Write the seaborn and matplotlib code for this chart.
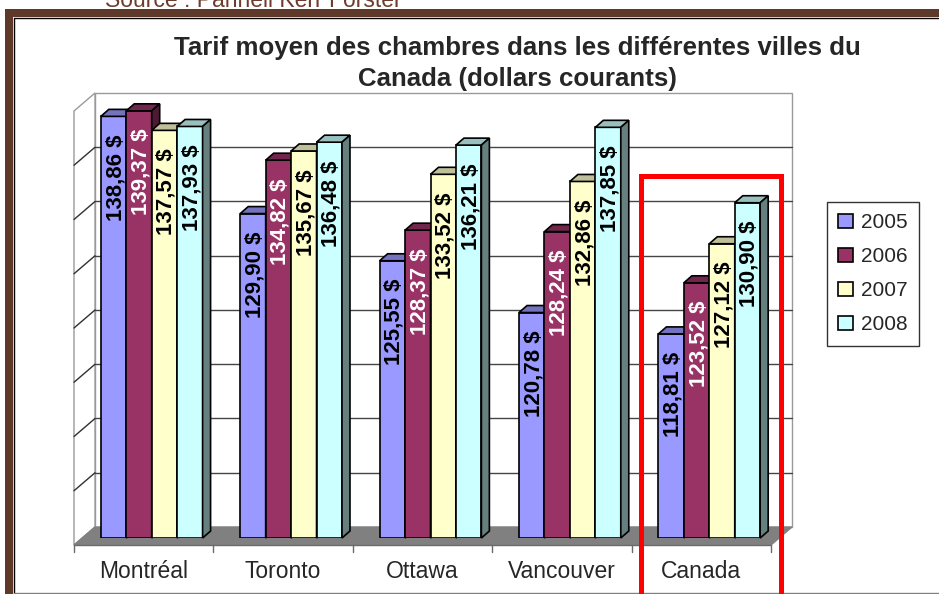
import numpy as np
import pandas as pd
import seaborn as sns
import matplotlib.pyplot as plt
from matplotlib import transforms
from matplotlib.patches import Polygon, Rectangle
from matplotlib.lines import Line2D

# data
cities = ["Montréal", "Toronto", "Ottawa", "Vancouver", "Canada"]
years = ["2005", "2006", "2007", "2008"]
tarif_2005 = [138.86, 129.90, 125.55, 120.78, 118.81]
tarif_2006 = [139.37, 134.82, 128.37, 128.24, 123.52]
tarif_2007 = [137.57, 135.67, 133.52, 132.86, 127.12]
tarif_2008 = [137.93, 136.48, 136.21, 137.85, 130.90]
y_min, y_max, y_step = 100, 140, 5

title_1 = "Tarif moyen des chambres dans les différentes villes du"
title_2 = "Canada (dollars courants)"
source = "Source : Pannell Kerr Forster"

front_colors = ["#9999FF", "#993366", "#FFFFCC", "#CCFFFF"]
label_colors = ["black", "white", "black", "black"]

df = pd.DataFrame({
    "ville": cities * len(years),
    "annee": np.repeat(years, len(cities)),
    "tarif": tarif_2005 + tarif_2006 + tarif_2007 + tarif_2008,
})

sns.set_style("white")
plt.rcParams["font.family"] = ["Liberation Sans", "DejaVu Sans"]

W, H = 939, 594
fig = plt.figure(figsize=(W / 100, H / 100), dpi=100)
ax = fig.add_axes([82 / W, 1 - 538 / H, 697 / W, 434 / H])

sns.barplot(data=df, x="ville", y="tarif", hue="annee", palette=front_colors,
            saturation=1, width=0.73, edgecolor="black", linewidth=1.2,
            legend=False, ax=ax)
ax.set_xlim(-0.5, len(cities) - 0.5)
ax.set_ylim(y_min, y_max)
ax.axis("off")

# pixel depth of the pseudo 3d view
BACK = np.array([13, 11])
FRONT = np.array([-8, -7])
BAR_D = np.array([8, 7])
ident = transforms.IdentityTransform()


def disp(x, y, off=(0, 0)):
    return ax.transData.transform((x, y)) + np.asarray(off)


def poly(pts, fc, ec, lw=1.0, z=1):
    ax.add_patch(Polygon(pts, closed=True, facecolor=fc, edgecolor=ec, lw=lw,
                         transform=ident, clip_on=False, zorder=z))


def line(p, q, color, lw=1.0, z=1):
    ax.add_line(Line2D([p[0], q[0]], [p[1], q[1]], color=color, lw=lw,
                       transform=ident, clip_on=False, zorder=z))


x_lo, x_hi = -0.5, len(cities) - 0.5

# back wall
poly([disp(x_lo, y_min, BACK), disp(x_hi, y_min, BACK),
      disp(x_hi, y_max, BACK), disp(x_lo, y_max, BACK)], "white", "#9a9a9a", z=0.5)
# left wall
poly([disp(x_lo, y_min, FRONT), disp(x_lo, y_max, FRONT),
      disp(x_lo, y_max, BACK), disp(x_lo, y_min, BACK)], "white", "#9a9a9a", z=0.6)
for v in range(y_min + y_step, y_max, y_step):
    line(disp(x_lo, v, BACK), disp(x_hi, v, BACK), "#454545", z=0.7)
    line(disp(x_lo, v, FRONT), disp(x_lo, v, BACK), "#303030", z=0.7)
# floor
poly([disp(x_lo, y_min, FRONT), disp(x_hi, y_min, FRONT),
      disp(x_hi, y_min, BACK), disp(x_lo, y_min, BACK)], "#808080", "#808080", z=0.8)
line(disp(x_lo, y_min, FRONT), disp(x_hi, y_min, FRONT), "#6a6a6a", z=0.9)
for b in np.arange(x_lo, x_hi + 0.1, 1.0):
    line(disp(b, y_min, FRONT), disp(b, y_min, FRONT - np.array([0, 7])), "#6a6a6a", z=0.9)

# bars: start at axis minimum, add top and side faces
for j, cont in enumerate(ax.containers):
    base = np.array(sns.color_palette([front_colors[j]])[0])
    top_c = base * 0.75
    side_c = base * 0.5
    for bar in cont:
        top = bar.get_y() + bar.get_height()
        bar.set_y(y_min)
        bar.set_height(top - y_min)
        bar.set_zorder(3 + j)
        x0 = bar.get_x()
        x1 = x0 + bar.get_width()
        poly([disp(x0, top), disp(x1, top), disp(x1, top, BAR_D), disp(x0, top, BAR_D)],
             top_c, "black", lw=1.2, z=3 + j + 0.5)
        poly([disp(x1, y_min), disp(x1, top), disp(x1, top, BAR_D), disp(x1, y_min, BAR_D)],
             side_c, "black", lw=1.2, z=3 + j + 0.5)
        txt = f"{top:.2f} $".replace(".", ",")
        ax.text((x0 + x1) / 2, top, txt, rotation=90, ha="center", va="top",
                fontsize=16, fontweight="bold", color=label_colors[j], zorder=20,
                transform=transforms.offset_copy(ax.transData, fig, x=2, y=-18, units="dots"))

# category labels
lab_tr = transforms.offset_copy(ax.transData, fig, x=-8, y=-40, units="dots")
for i, c in enumerate(cities):
    ax.text(i, y_min, c, ha="center", va="baseline", fontsize=16.5, transform=lab_tr)

# legend
handles = [Rectangle((0, 0), 1, 1, facecolor=c, edgecolor="black", lw=1.2) for c in front_colors]
leg = fig.legend(handles, years, loc="upper left", bbox_to_anchor=(827 / W, 1 - 202 / H),
                 borderaxespad=0, frameon=True, fancybox=False, edgecolor="black", fontsize=15,
                 handlelength=0.7, handleheight=0.7, handletextpad=0.4,
                 labelspacing=0.72, borderpad=0.55)
leg.get_frame().set_linewidth(1.0)

# title
fig.text(517 / W, 1 - 55 / H, title_1, ha="center", va="baseline", fontsize=18.6, fontweight="bold")
fig.text(517 / W, 1 - 86 / H, title_2, ha="center", va="baseline", fontsize=18.6, fontweight="bold")

# page frame
brown = "#5E3828"
fig.add_artist(Rectangle((5 / W, 0), 8 / W, 1 - 9 / H, transform=fig.transFigure, color=brown, lw=0))
fig.add_artist(Rectangle((5 / W, 1 - 17 / H), 1, 8 / H, transform=fig.transFigure, color=brown, lw=0))
fig.add_artist(Line2D([13.5 / W, 1], [1 - 17.5 / H] * 2, transform=fig.transFigure, color="black", lw=1))
fig.add_artist(Line2D([13.5 / W] * 2, [0, 1 - 17.5 / H], transform=fig.transFigure, color="black", lw=1))
fig.add_artist(Line2D([13.5 / W, 1], [1 - 593 / H] * 2, transform=fig.transFigure, color="#808080", lw=1))
fig.text(105 / W, 1 - 7 / H, source, color="#6E3B2C", fontsize=16.5, va="baseline")

# highlight box
fig.add_artist(Rectangle((640.5 / W, -0.1), 140 / W, 1.1 - 176 / H, transform=fig.transFigure,
                         fill=False, edgecolor="#FF0000", lw=3.6, zorder=5))

fig.savefig("out.png", dpi=100)
